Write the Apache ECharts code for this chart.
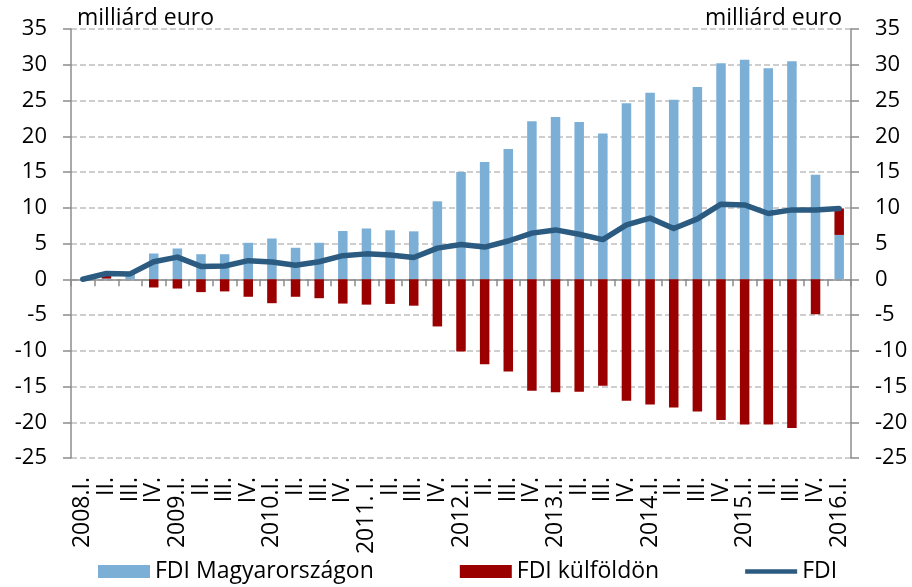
<!DOCTYPE html>
<html>
<head>
<meta charset="utf-8">
<script src="https://cdn.jsdelivr.net/npm/echarts@6/dist/echarts.min.js"></script>
<style>
  html, body { margin: 0; padding: 0; background: #fff; }
  #main { width: 912px; height: 587px; }
</style>
</head>
<body>
<div id="main"></div>
<script>
// negyedévek
var categories = [
  '2008.I.', 'II.', 'III.', 'IV.',
  '2009.I.', 'II.', 'III.', 'IV.',
  '2010.I.', 'II.', 'III.', 'IV.',
  '2011. I.', 'II.', 'III.', 'IV.',
  '2012.I.', 'II.', 'III.', 'IV.',
  '2013.I.', 'II.', 'III.', 'IV.',
  '2014.I.', 'II.', 'III.', 'IV.',
  '2015.I.', 'II.', 'III.', 'IV.',
  '2016.I.'
];

var fdiHu = [
  0, 0.1, 0.7, 3.6,
  4.3, 3.5, 3.5, 5.1,
  5.7, 4.4, 5.1, 6.75,
  7.1, 6.85, 6.7, 10.9,
  15.0, 16.4, 18.2, 22.1,
  22.7, 22.0, 20.4, 24.6,
  26.1, 25.1, 26.9, 30.2,
  30.7, 29.5, 30.5, 14.6,
  6.2
];

var fdiAbroad = [
  0, 0.7, 0.05, -1.15,
  -1.3, -1.8, -1.7, -2.45,
  -3.35, -2.45, -2.65, -3.4,
  -3.55, -3.45, -3.7, -6.6,
  -10.1, -11.9, -12.9, -15.6,
  -15.8, -15.75, -14.9, -17.0,
  -17.5, -17.95, -18.5, -19.7,
  -20.3, -20.3, -20.8, -4.9,
  3.7
];

var fdiNet = [
  0, 0.8, 0.75, 2.45,
  3.1, 1.8, 1.85, 2.6,
  2.4, 1.95, 2.45, 3.3,
  3.55, 3.4, 3.05, 4.35,
  4.85, 4.5, 5.35, 6.45,
  6.9, 6.3, 5.55, 7.6,
  8.55, 7.1, 8.45, 10.5,
  10.4, 9.2, 9.7, 9.7,
  9.9
];

var FONT = '"Open Sans", sans-serif';
var axisGray = '#8c8c8c';

function valueAxis(pos) {
  return {
    type: 'value',
    position: pos,
    min: -25,
    max: 35,
    interval: 5,
    axisLine: { show: true, onZero: false, lineStyle: { color: axisGray, width: 1.5 } },
    axisTick: { show: true, length: 8, lineStyle: { color: axisGray, width: 1.5 } },
    axisLabel: { color: '#000', fontFamily: FONT, fontSize: 22, margin: 24 },
    splitLine: { show: pos === 'left', lineStyle: { color: '#bfbfbf', width: 1.5, type: [6, 3] } }
  };
}

var option = {
  animation: false,
  grid: { left: 71, right: 61, top: 29, bottom: 129, containLabel: false },
  legend: {
    top: 555,
    left: 93,
    itemWidth: 52,
    itemHeight: 13,
    itemGap: 86,
    textStyle: { color: '#000', fontFamily: FONT, fontSize: 23 },
    data: [
      { name: 'FDI Magyarországon', icon: 'rect' },
      { name: 'FDI külföldön', icon: 'rect' },
      { name: 'FDI', icon: 'path://M0,0 M56,13 M0,4 L56,4 L56,9 L0,9 Z' }
    ]
  },
  graphic: [
    { type: 'text', left: 77, top: 7, style: { text: 'milliárd euro', font: '23px ' + FONT, fill: '#000' } },
    { type: 'text', right: 70, top: 7, style: { text: 'milliárd euro', font: '23px ' + FONT, fill: '#000' } }
  ],
  xAxis: [
    {
      type: 'category',
      data: categories,
      position: 'bottom',
      axisLine: { show: false, onZero: false },
      axisTick: { show: false },
      axisLabel: { interval: 0, rotate: 90, color: '#000', fontFamily: FONT, fontSize: 23, margin: 19 }
    },
    {
      type: 'category',
      data: categories,
      position: 'bottom',
      axisLine: { show: true, onZero: true, lineStyle: { color: axisGray, width: 1.5 } },
      axisTick: { show: true, length: 7, interval: 0, lineStyle: { color: axisGray, width: 1.5 } },
      axisLabel: { show: false }
    }
  ],
  yAxis: [valueAxis('left'), valueAxis('right')],
  series: [
    {
      name: 'FDI Magyarországon',
      type: 'bar',
      stack: 'fdi',
      barWidth: 9.5,
      itemStyle: { color: '#7bafd6' },
      data: fdiHu
    },
    {
      name: 'FDI külföldön',
      type: 'bar',
      stack: 'fdi',
      barWidth: 9.5,
      itemStyle: { color: '#9b0000' },
      data: fdiAbroad
    },
    {
      name: 'FDI',
      type: 'line',
      symbol: 'none',
      z: 5,
      lineStyle: { color: '#2b5b80', width: 5.5, cap: 'round', join: 'round' },
      itemStyle: { color: '#2b5b80' },
      data: fdiNet
    }
  ]
};

var myChart = echarts.init(document.getElementById('main'));
myChart.setOption(option);
</script>
</body>
</html>
